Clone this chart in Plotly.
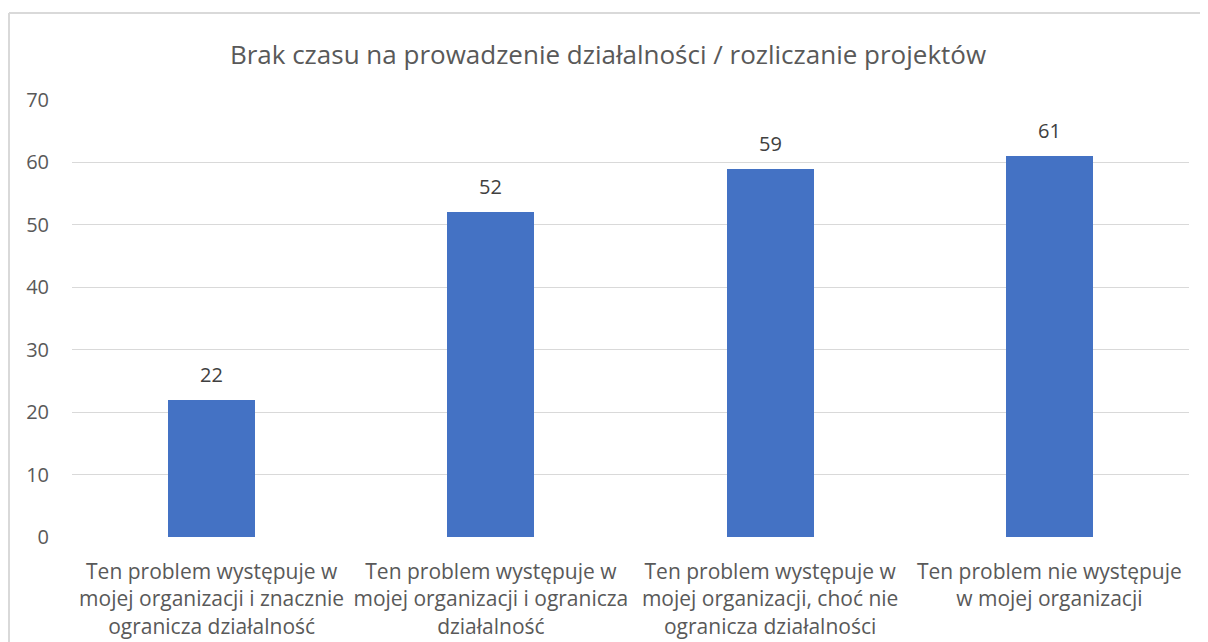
import plotly.graph_objects as go

categories = [
    "Ten problem występuje w<br>mojej organizacji i znacznie<br>ogranicza działalność",
    "Ten problem występuje w<br>mojej organizacji i ogranicza<br>działalność",
    "Ten problem występuje w<br>mojej organizacji, choć nie<br>ogranicza działalności",
    "Ten problem nie występuje<br>w mojej organizacji",
]
values = [22, 52, 59, 61]
title = "Brak czasu na prowadzenie działalności / rozliczanie projektów"
yticks = [0, 10, 20, 30, 40, 50, 60, 70]

FONT = "Open Sans"
TXT = "#595959"

# page has an 8px body margin, so figure is 1200x634 drawn at (8, 8)
W, H = 1200, 634
L, R, T, B = 64, 19, 92, 105
PW, PH = W - L - R, H - T - B

fig = go.Figure()
fig.add_trace(go.Bar(
    x=list(range(len(categories))), y=values,
    marker=dict(color="#4472C4", line=dict(width=0)),
    width=0.312, hoverinfo="skip",
))
for i, v in enumerate(values):
    fig.add_annotation(x=i, y=v, text=str(v), showarrow=False,
                       yanchor="bottom", yshift=10,
                       font=dict(family=FONT, size=20, color="#404040"))

fig.update_layout(
    width=W, height=H,
    margin=dict(l=L, r=R, t=T, b=B, autoexpand=False),
    paper_bgcolor="white", plot_bgcolor="white",
    showlegend=False,
    title=dict(text=title, x=0.5, xanchor="center", y=1 - 47 / H, yanchor="middle",
               font=dict(family=FONT, size=26, color=TXT)),
    font=dict(family=FONT, color=TXT),
    xaxis=dict(tickvals=list(range(len(categories))), ticktext=categories,
               range=[-0.5, 3.5], showgrid=False, zeroline=False, automargin=False,
               tickfont=dict(family=FONT, size=21, color=TXT), ticks="", showline=False,
               ticklabelstandoff=20),
    yaxis=dict(range=[0, 70], tickvals=yticks, showgrid=True, gridcolor="#D9D9D9",
               gridwidth=1, zeroline=False, ticks="", ticklabelstandoff=22, automargin=False,
               tickfont=dict(family=FONT, size=20, color=TXT)),
    bargap=0,
)
fig.add_shape(type="line", xref="paper", yref="paper", x0=-(L - 1) / PW, x1=-(L - 1) / PW,
              y0=1 + (T - 5) / PH, y1=-B / PH, line=dict(color="#D9D9D9", width=2))
fig.add_shape(type="line", xref="paper", yref="paper", x0=-(L - 1) / PW, x1=1 + R / PW,
              y0=1 + (T - 5) / PH, y1=1 + (T - 5) / PH, line=dict(color="#D9D9D9", width=2))

fig.write_html("out.html")
